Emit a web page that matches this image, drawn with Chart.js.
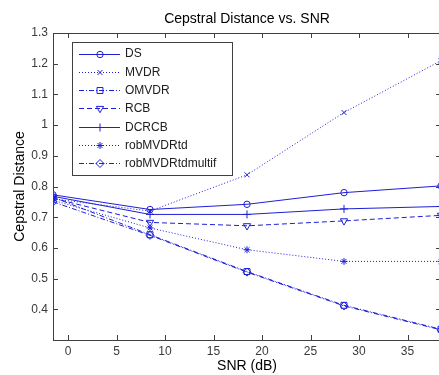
<!DOCTYPE html>
<html>
<head>
<meta charset="utf-8">
<script src="https://cdn.jsdelivr.net/npm/chart.js@4"></script>
<style>
html,body{margin:0;padding:0;background:#fff;overflow:hidden;width:439px;height:375px;}
#c{position:absolute;left:0;top:0;}
</style>
</head>
<body>
<canvas id="c" width="446" height="375"></canvas>
<script>
// ---- data ----
const snr = [-1.55, 8.45, 18.45, 28.45, 38.45];
const seriesNames = ['DS','MVDR','OMVDR','RCB','DCRCB','robMVDRtd','robMVDRtdmultif'];
const DS              = [0.773, 0.725, 0.742, 0.780, 0.802];
const MVDR            = [0.760, 0.720, 0.838, 1.041, 1.210];
const OMVDR           = [0.765, 0.643, 0.523, 0.413, 0.335];
const RCB             = [0.762, 0.683, 0.672, 0.688, 0.706];
const DCRCB           = [0.768, 0.709, 0.709, 0.727, 0.735];
const robMVDRtd       = [0.755, 0.665, 0.594, 0.556, 0.556];
const robMVDRtdmultif = [0.750, 0.641, 0.521, 0.411, 0.333];
const xTicks = [0, 5, 10, 15, 20, 25, 30, 35];
const yTicks = [0.4, 0.5, 0.6, 0.7, 0.8, 0.9, 1.0, 1.1, 1.2, 1.3];
const titleText = 'Cepstral Distance vs. SNR';
const xTitle = 'SNR (dB)';
const yTitle = 'Cepstral Distance';

const BLUE = 'rgb(30,30,215)';
const FONT = '"Liberation Sans", Arial, Helvetica, sans-serif';
const AXIS = '#404040';

const styles = [
  {dash: [],         marker: 'circle',   r: 3.2},
  {dash: [1, 2],     marker: 'crossRot', r: 3.5},
  {dash: [5, 2, 1, 2], marker: 'rect',   r: 4.2},
  {dash: [5, 3],     marker: 'triangle', r: 4.2, rot: 180},
  {dash: [],         marker: 'cross',    r: 4},
  {dash: [1, 2],     marker: 'star',     r: 3.5},
  {dash: [5, 2, 1, 2], marker: 'rectRot', r: 4}
];
const values = [DS, MVDR, OMVDR, RCB, DCRCB, robMVDRtd, robMVDRtdmultif];

const datasets = seriesNames.map((name, i) => ({
  label: name,
  data: snr.map((x, j) => ({x: x, y: values[i][j]})),
  borderColor: BLUE,
  backgroundColor: 'rgba(0,0,0,0)',
  borderWidth: 1,
  borderDash: styles[i].dash,
  pointStyle: styles[i].marker,
  pointRadius: styles[i].r,
  pointRotation: styles[i].rot || 0,
  pointBorderColor: BLUE,
  pointBackgroundColor: 'rgba(0,0,0,0)',
  pointBorderWidth: 1,
  tension: 0,
  fill: false
}));

const decor = {
  id: 'decor',
  afterDraw(chart) {
    const ctx = chart.ctx;
    const a = chart.chartArea;
    const xs = chart.scales.x, ys = chart.scales.y;
    ctx.save();
    // frame
    ctx.strokeStyle = AXIS;
    ctx.lineWidth = 1;
    ctx.setLineDash([]);
    ctx.strokeRect(Math.round(a.left) + 0.5, Math.round(a.top) + 0.5,
                   Math.round(a.right - a.left), Math.round(a.bottom - a.top));
    // inward ticks
    ctx.beginPath();
    xTicks.forEach(v => {
      const px = Math.round(xs.getPixelForValue(v)) + 0.5;
      ctx.moveTo(px, a.bottom); ctx.lineTo(px, a.bottom - 5);
      ctx.moveTo(px, a.top); ctx.lineTo(px, a.top + 5);
    });
    yTicks.forEach(v => {
      const py = Math.round(ys.getPixelForValue(v)) + 0.5;
      ctx.moveTo(a.left, py); ctx.lineTo(a.left + 5, py);
      ctx.moveTo(a.right, py); ctx.lineTo(a.right - 5, py);
    });
    ctx.stroke();
    // titles
    ctx.fillStyle = '#000';
    ctx.font = '14px ' + FONT;
    ctx.textAlign = 'center';
    ctx.textBaseline = 'middle';
    ctx.fillText(titleText, (a.left + a.right) / 2, 19);
    ctx.fillText(xTitle, (a.left + a.right) / 2, 366);
    ctx.save();
    ctx.translate(20, (a.top + a.bottom) / 2);
    ctx.rotate(-Math.PI / 2);
    ctx.fillText(yTitle, 0, 0);
    ctx.restore();
    // legend
    const lx = 72, ly = 42, lw = 160, lh = 133;
    ctx.fillStyle = '#fff';
    ctx.fillRect(lx, ly, lw, lh);
    ctx.strokeStyle = AXIS;
    ctx.strokeRect(lx + 0.5, ly + 0.5, lw, lh);
    ctx.font = '12px ' + FONT;
    ctx.textAlign = 'left';
    chart.data.datasets.forEach((ds, i) => {
      const y = 53.5 + i * 18.3;
      const yy = Math.round(y) + 0.5;
      ctx.strokeStyle = ds.borderColor;
      ctx.lineWidth = 1;
      ctx.setLineDash(ds.borderDash);
      ctx.beginPath();
      ctx.moveTo(79, yy);
      ctx.lineTo(120, yy);
      ctx.stroke();
      ctx.setLineDash([]);
      ctx.fillStyle = 'rgba(0,0,0,0)';
      ctx.strokeStyle = ds.pointBorderColor;
      Chart.helpers.drawPoint(ctx, {
        pointStyle: ds.pointStyle, radius: ds.pointRadius,
        rotation: ds.pointRotation, borderWidth: 1
      }, 100, yy);
      ctx.fillStyle = '#202020';
      ctx.fillText(ds.label, 125, y + 0.5);
    });
    ctx.restore();
  }
};

new Chart(document.getElementById('c'), {
  type: 'line',
  data: {datasets: datasets},
  options: {
    responsive: false,
    animation: false,
    events: [],
    layout: {autoPadding: false, padding: {left: 0, top: 33, right: 5, bottom: 0}},
    plugins: {legend: {display: false}, title: {display: false}, tooltip: {enabled: false}},
    scales: {
      x: {
        type: 'linear', min: -1.55, max: 38.45,
        afterBuildTicks: s => { s.ticks = xTicks.map(v => ({value: v})); },
        afterFit: s => { s.height = 35; },
        grid: {display: false, drawTicks: false},
        border: {display: false},
        ticks: {color: '#3a3a3a', font: {family: FONT, size: 12}, padding: 4, maxRotation: 0, autoSkip: false}
      },
      y: {
        type: 'linear', min: 0.3, max: 1.3,
        afterBuildTicks: s => { s.ticks = yTicks.map(v => ({value: v})); },
        afterFit: s => { s.width = 53; },
        grid: {display: false, drawTicks: false},
        border: {display: false},
        ticks: {color: '#3a3a3a', font: {family: FONT, size: 12}, padding: 5, autoSkip: false,
                callback: v => (Math.round(v * 10) / 10).toString()}
      }
    }
  },
  plugins: [decor]
});
</script>
</body>
</html>
